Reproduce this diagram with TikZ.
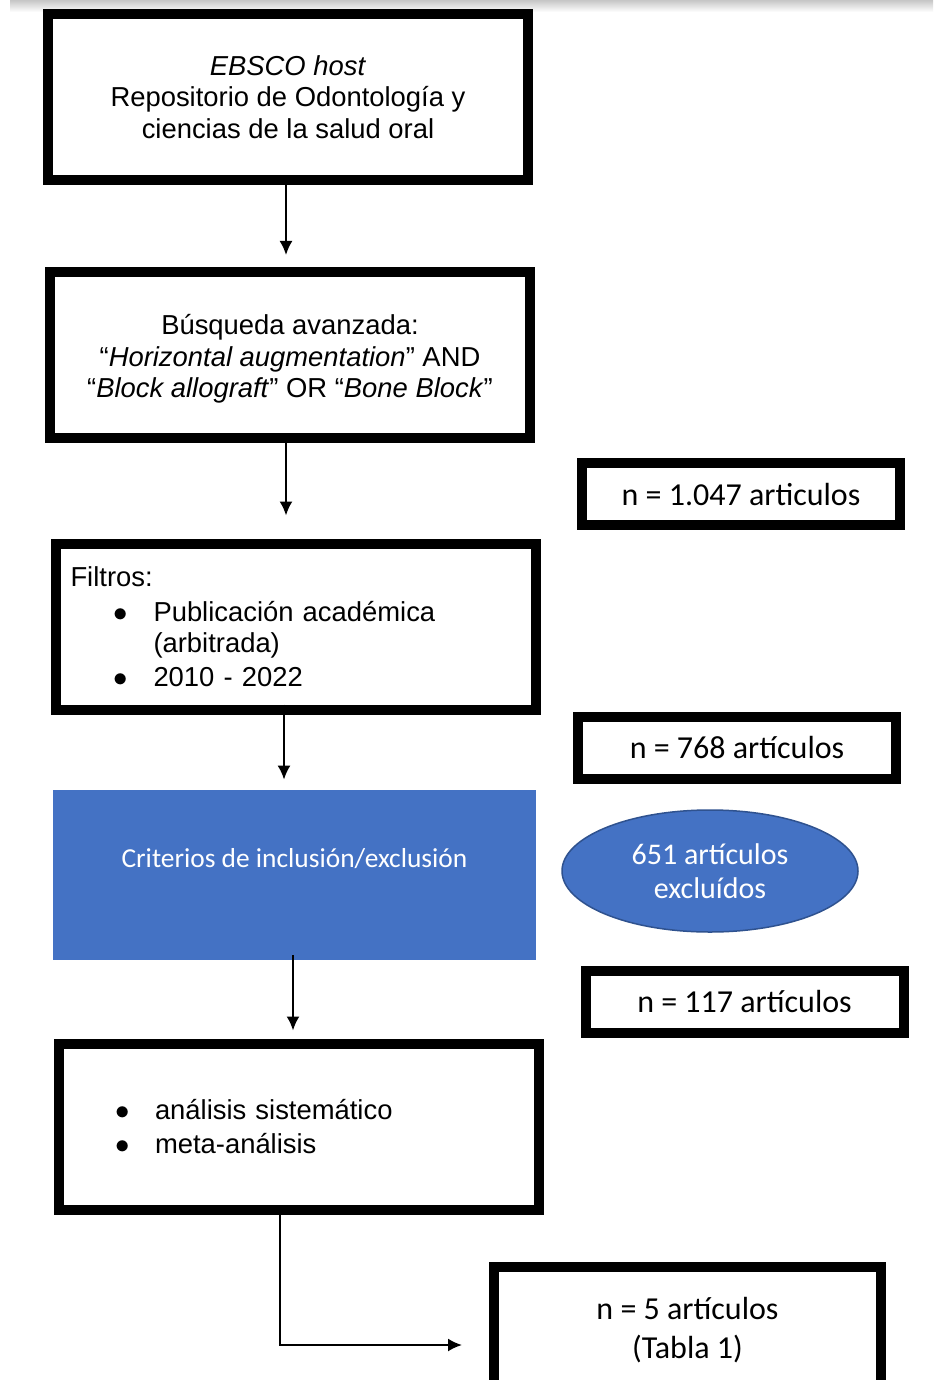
\documentclass[tikz,border=0pt]{standalone}
\usepackage{fontspec}
\setmainfont{Liberation Sans}
\newfontfamily\calib{Carlito}
\usetikzlibrary{shapes,arrows,arrows.meta,positioning}

\definecolor{critblue}{HTML}{4472C4}
\definecolor{critedge}{HTML}{2F528F}
\newcommand{\bitem}[1]{\makebox[20pt][l]{$\bullet$}#1}

\begin{document}
\begin{tikzpicture}[x=0.5pt,y=-0.5pt,
  bigbox/.style={draw, line width=5pt, minimum width=240pt, minimum height=83pt, inner sep=0pt, align=center, font=\fontsize{13.7}{15.75}\selectfont},
  nbox/.style={draw, line width=5pt, minimum width=159pt, minimum height=31pt, inner sep=0pt, font=\calib\fontsize{16}{19.5}\selectfont},
  link/.style={-{Latex[length=7pt,width=6.5pt]}, line width=1pt}]

\clip (0,0) rectangle (933,1380);
\fill[white] (0,0) rectangle (933,1380);
\shade[top color=gray!45, bottom color=white] (10,0) rectangle (933,12);

\node[bigbox] (ebsco) at (288,97) {\textit{EBSCO host}\\Repositorio de Odontología y\\ciencias de la salud oral};

\node[bigbox] (busq) at (290,355) {\rule{0pt}{0pt}\\[-1.5pt]Búsqueda avanzada:\\“\textit{Horizontal augmentation}” AND\\“\textit{Block allograft}” OR “\textit{Bone Block}”};

\node[nbox, text depth=0pt] (n1047) at (741,494) {n = 1.047 articulos};

\node[bigbox, text width=225pt, align=left] (filtros) at (295.5,626.5) {Filtros:\\[1.75pt]
\hspace*{21.5pt}\bitem{Publicación académica}\\
\hspace*{41.5pt}(arbitrada)\\[1.25pt]
\hspace*{21.5pt}\bitem{2010 - 2022}};

\node[nbox, text depth=0pt] (n768) at (737,747.5) {n = 768 artículos};

\node[minimum width=241.5pt, minimum height=85pt, fill=critblue,
  label={[text=white, font=\calib\fontsize{13.7}{16}\selectfont, yshift=8pt]center:Criterios de inclusión/exclusión}] (crit) at (294.5,875) {};

\node[ellipse, fill=critblue, draw=critedge, line width=0.75pt, minimum width=148pt, minimum height=61pt, inner sep=0pt, text=white, align=center, font=\calib\fontsize{15}{17}\selectfont] (excl) at (710,871) {651 artículos\\excluídos};

\node[nbox, text depth=0pt] (n117) at (744.5,1001.5) {n = 117 artículos};

\node[bigbox, text width=184pt, align=left] (analisis) at (299,1126.5) {\bitem{análisis sistemático}\\[1.25pt]
\bitem{meta-análisis}};

\node[draw, line width=5pt, minimum width=193.5pt, minimum height=63pt, inner sep=0pt, align=center, font=\calib\fontsize{16}{19.5}\selectfont] (final) at (687.5,1330) {n = 5 artículos\\(Tabla 1)};

% flechas
\draw[link, shorten >=6pt] ([xshift=-1pt]ebsco.south) -- ([xshift=-1pt]ebsco.south |- busq.north);
\draw[link, shorten >=11.5pt] ([xshift=-2pt]busq.south) -- ([xshift=-2pt]busq.south |- filtros.north);
\draw[link, shorten <=-5pt, shorten >=5pt] ([xshift=-5.75pt]filtros.south) -- ([xshift=-5.75pt]filtros.south |- crit.north);
\draw[link, shorten <=-2.5pt, shorten >=4pt] ([xshift=-0.75pt]crit.south) -- ([xshift=-0.75pt]crit.south |- analisis.north);
\draw[link, shorten >=13.5pt] ([xshift=-9.5pt]analisis.south) |- ([yshift=-7.5pt]final.west);

\end{tikzpicture}
\end{document}
